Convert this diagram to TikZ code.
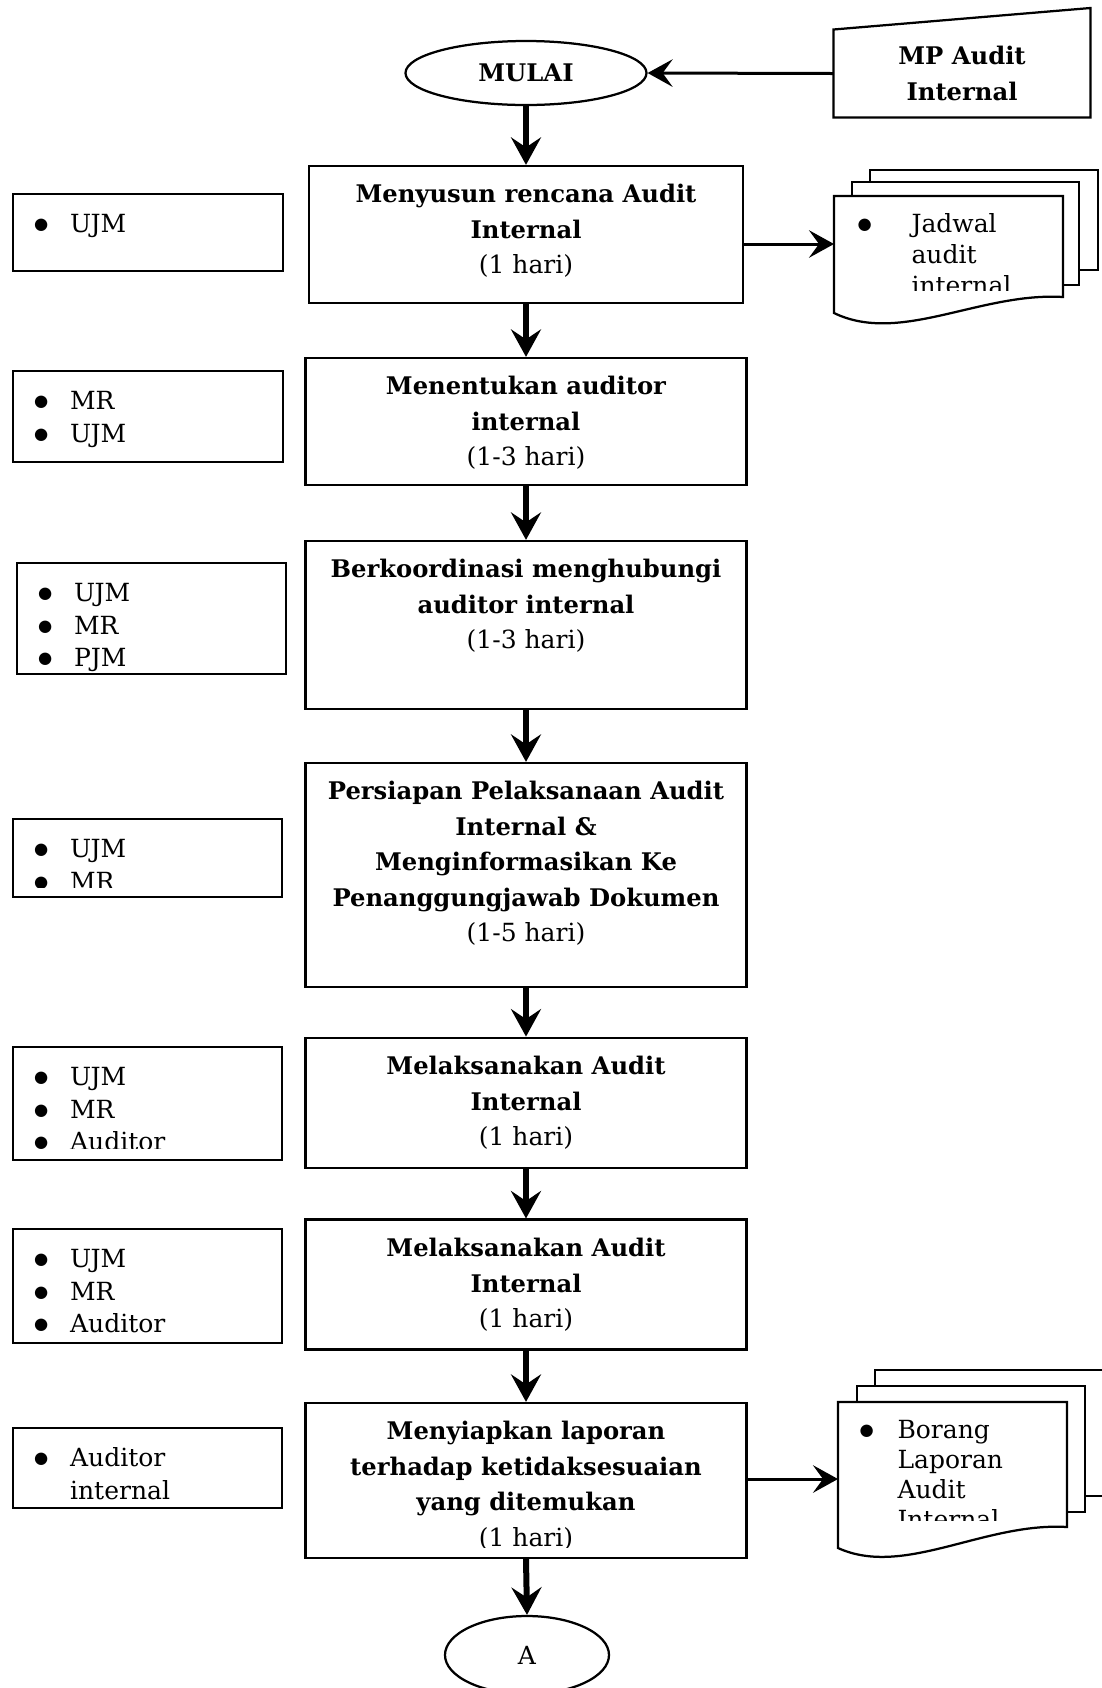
\documentclass[tikz,border=0pt]{standalone}
\usepackage{fontspec}
\setmainfont{DejaVu Serif}
\newfontfamily\simbol{DejaVu Sans}
\usepackage{tikz}
\usetikzlibrary{arrows.meta}
\usetikzlibrary{shapes.geometric}

\newcommand{\tebal}{\fontsize{9.7}{14.2}\selectfont\bfseries}
\newcommand{\hari}[1]{{\mdseries\fontsize{10}{14.2}\selectfont #1}}
\newcommand{\biasa}{\fontsize{10}{13}\selectfont}
\newcommand{\titik}{\raisebox{1.1pt}{\simbol\fontsize{6.5}{8}\selectfont ●}}
\newcommand{\butir}[2][14.4pt]{\makebox[#1][l]{\titik}#2}

\begin{document}
\begin{tikzpicture}[x=0.4pt,y=-0.4pt,
	isi/.style={draw=none, minimum size=0pt, inner sep=0pt},
	proses/.style n args={2}{draw, line width=0.9pt, minimum width=176.4pt, inner sep=0pt,
		path picture={\clip ([yshift=#2]path picture bounding box.south west) rectangle (path picture bounding box.north east);
			\node[isi, anchor=north, align=center, font=\tebal] at ([yshift=-4.4pt]path picture bounding box.north) {\strut#1};}},
	pelaku/.style n args={2}{draw, line width=0.9pt, minimum width=107.6pt, inner sep=0pt,
		path picture={\clip ([yshift=#2]path picture bounding box.south west) rectangle (path picture bounding box.north east);
			\node[isi, anchor=north west, align=left, font=\biasa] at ([xshift=8pt,yshift=-5.9pt]path picture bounding box.north west) {\strut#1};}},
	terminal/.style={draw, ellipse, line width=0.9pt, inner sep=0pt},
	halaman/.style={draw, line width=0.9pt, fill=white},
	panah/.style={line width=2.4pt, -{Stealth[length=11pt, width=12pt, inset=4pt]}},
	panahkecil/.style={line width=1.2pt, -{Stealth[length=10pt, width=11pt, inset=4pt]}}]

	\useasboundingbox (0,0) rectangle (1101,1688);

	\node[terminal, minimum width=96.4pt, minimum height=25.6pt, font=\tebal] (mulai) at (526,73) {MULAI};
	\node[minimum width=102.4pt, minimum height=34.8pt, inner sep=0pt, align=center, font=\tebal] (mp) at (962,73.5) {MP Audit\\Internal};
	\draw[line width=0.9pt] (mp.north west) -- ([yshift=8.6pt]mp.north east) -- (mp.south east) -- (mp.south west) -- cycle; %manual input
	\draw[panahkecil] (mp.west) -- (mulai.east);

	% langkah-langkah
	\node[proses={Menyusun rencana Audit\\Internal\\\hari{(1 hari)}}{0pt}, minimum width=173.6pt, minimum height=54.8pt] (rencana) at (526,234.5) {};
	\node[proses={Menentukan auditor\\internal\\\hari{(1-3 hari)}}{0pt}, minimum height=50.8pt] (auditor) at (526,421.5) {};
	\node[proses={Berkoordinasi menghubungi\\auditor internal\\\hari{(1-3 hari)}}{0pt}, minimum height=67.2pt] (koordinasi) at (526,625) {};
	\node[proses={Persiapan Pelaksanaan Audit\\Internal \&\\Menginformasikan Ke\\Penanggungjawab Dokumen\\\hari{(1-5 hari)}}{0pt}, minimum height=89.6pt] (persiapan) at (526,875) {};
	\node[proses={Melaksanakan Audit\\Internal\\\hari{(1 hari)}}{0pt}, minimum height=52pt] (laksana1) at (526,1102.7) {};
	\node[proses={Melaksanakan Audit\\Internal\\\hari{(1 hari)}}{0pt}, minimum height=52pt] (laksana2) at (526,1284.6) {};
	\node[proses={Menyiapkan laporan\\terhadap ketidaksesuaian\\yang ditemukan\\\hari{(1 hari)}}{4.4pt}, minimum height=62pt] (laporan) at (526,1480.5) {};
	\node[terminal, minimum width=65.6pt, minimum height=31.2pt, font=\biasa] (sambung) at (527,1655) {A};

	\draw[panah] (mulai.south) -- (rencana.north);
	\draw[panah] (rencana.south) -- (auditor.north);
	\draw[panah] (auditor.south) -- (koordinasi.north);
	\draw[panah] (koordinasi.south) -- (persiapan.north);
	\draw[panah] (persiapan.south) -- (laksana1.north);
	\draw[panah] (laksana1.south) -- (laksana2.north);
	\draw[panah] (laksana2.south) -- (laporan.north);
	\draw[panah] (laporan.south) -- (sambung.north);

	% penanggung jawab
	\node[pelaku={\butir{UJM}}{0pt}, minimum width=108pt, minimum height=30.8pt] (pj1) at (148,232.5) {};
	\node[pelaku={\butir{MR}\\\butir{UJM}}{0pt}, minimum width=108pt, minimum height=36.4pt] (pj2) at (148,416.5) {};
	\node[pelaku={\butir{UJM}\\\butir{MR}\\\butir{PJM}}{0pt}, minimum height=44.4pt] (pj3) at (151.5,618.5) {};
	\node[pelaku={\butir{UJM}\\\butir{MR}}{4pt}, minimum height=31.2pt] (pj4) at (147.5,858) {};
	\node[pelaku={\butir{UJM}\\\butir{MR}\\\butir{Auditor}}{4.8pt}, minimum height=45.2pt] (pj5) at (147.5,1103.5) {};
	\node[pelaku={\butir{UJM}\\\butir{MR}\\\butir{Auditor}}{0pt}, minimum height=45.6pt] (pj6) at (147.5,1286) {};
	\node[pelaku={\butir{Auditor}\\\makebox[14.4pt]{}internal}{0pt}, minimum height=32pt] (pj7) at (147.5,1468) {};

	% jadwal audit internal
	\draw[halaman] (870,170) rectangle (1098,270);
	\draw[halaman] (852,182) rectangle (1079,285);
	\draw[halaman] (834,196) -- (1063,196) -- (1063,297) .. controls (980,292) and (900,345) .. (834,313) -- cycle;
	\begin{scope}
		\clip (834,196) rectangle (1063,290);
		\node[anchor=north west, align=left, inner sep=0pt, font=\fontsize{10}{12.4}\selectfont] (jadwalteks) at (857,210) {\strut\butir[21.6pt]{Jadwal}\\\makebox[21.6pt]{}audit\\\makebox[21.6pt]{}internal};
	\end{scope}
	\coordinate (jadwal) at (834,244);
	\draw[panahkecil] (rencana.east |- jadwal) -- (jadwal);

	% borang laporan audit internal
	\draw[halaman] (875,1370) rectangle (1115,1496);
	\draw[halaman] (857,1386) rectangle (1085,1512);
	\draw[halaman] (838,1402) -- (1067,1402) -- (1067,1527) .. controls (984,1522) and (904,1578) .. (838,1548) -- cycle;
	\begin{scope}
		\clip (838,1402) rectangle (1067,1520);
		\node[anchor=north west, align=left, inner sep=0pt, font=\fontsize{10}{12}\selectfont] (borangteks) at (859,1417) {\strut\butir[15.2pt]{Borang}\\\makebox[15.2pt]{}Laporan\\\makebox[15.2pt]{}Audit\\\makebox[15.2pt]{}Internal};
	\end{scope}
	\coordinate (borang) at (838,1479);
	\draw[panahkecil] (laporan.east |- borang) -- (borang);

\end{tikzpicture}
\end{document}
